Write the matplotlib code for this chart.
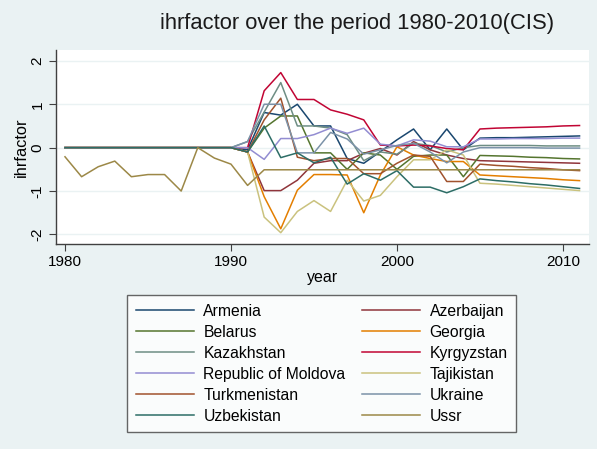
import numpy as np
import matplotlib
matplotlib.use("Agg")
import matplotlib.pyplot as plt

plt.rcParams['font.family'] = ['Liberation Sans', 'DejaVu Sans']

years = list(range(1980, 2012))

armenia = [0, 0, 0, 0, 0, 0, 0, 0, 0, 0, 0,
           -0.05, 0.81, 0.75, 1.0, 0.5, 0.5, -0.25, -0.36, -0.09, 0.18,
           0.43, -0.05, 0.43, -0.05, 0.22, 0.23, 0.23, 0.24, 0.25, 0.26, 0.27]
azerbaijan = [0, 0, 0, 0, 0, 0, 0, 0, 0, 0, 0,
              -0.1, -0.99, -0.99, -0.75, -0.36, -0.3, -0.3, -0.13, -0.02, -0.17,
              0.14, -0.05, -0.17, -0.25, -0.3, -0.31, -0.32, -0.33, -0.34, -0.35, -0.36]
belarus = [0, 0, 0, 0, 0, 0, 0, 0, 0, 0, 0,
           -0.1, 0.45, 0.73, 0.73, -0.12, -0.12, -0.5, -0.12, -0.17, -0.5,
           -0.2, -0.17, -0.17, -0.67, -0.18, -0.19, -0.2, -0.22, -0.23, -0.25, -0.26]
georgia = [0, 0, 0, 0, 0, 0, 0, 0, 0, 0, 0,
           -0.1, -1.13, -1.87, -0.98, -0.62, -0.62, -0.63, -1.5, -0.63, 0.02,
           -0.17, -0.25, -0.32, -0.32, -0.63, -0.65, -0.67, -0.69, -0.71, -0.74, -0.76]
kazakhstan = [0, 0, 0, 0, 0, 0, 0, 0, 0, 0, 0,
              0.14, 0.82, 1.5, 0.5, 0.5, 0.45, 0.3, -0.3, -0.1, -0.15,
              0.1, 0.05, -0.1, 0.0, 0.05, 0.05, 0.05, 0.05, 0.04, 0.04, 0.04]
kyrgyzstan = [0, 0, 0, 0, 0, 0, 0, 0, 0, 0, 0,
              0.0, 1.31, 1.73, 1.11, 1.11, 0.87, 0.77, 0.64, 0.06, 0.04,
              0.06, 0.04, -0.02, -0.05, 0.43, 0.45, 0.46, 0.47, 0.48, 0.5, 0.51]
moldova = [0, 0, 0, 0, 0, 0, 0, 0, 0, 0, 0,
           0.0, -0.27, 0.21, 0.21, 0.3, 0.45, 0.33, 0.45, 0.08, 0.04,
           0.18, 0.15, 0.02, 0.02, 0.2, 0.2, 0.21, 0.21, 0.21, 0.22, 0.22]
tajikistan = [0, 0, 0, 0, 0, 0, 0, 0, 0, 0, 0,
              -0.1, -1.6, -1.96, -1.47, -1.22, -1.47, -0.75, -1.23, -1.1, -0.67,
              -0.28, -0.28, -0.05, -0.17, -0.82, -0.84, -0.87, -0.9, -0.93, -0.96, -0.99]
turkmenistan = [0, 0, 0, 0, 0, 0, 0, 0, 0, 0, 0,
                -0.1, 0.64, 1.14, -0.22, -0.3, -0.25, -0.25, -0.6, -0.6, -0.36,
                -0.17, -0.2, -0.78, -0.78, -0.38, -0.41, -0.43, -0.46, -0.48, -0.51, -0.53]
ukraine = [0, 0, 0, 0, 0, 0, 0, 0, 0, 0, 0,
           0.14, 1.0, 1.0, -0.12, -0.12, 0.35, 0.2, -0.15, -0.05, 0.05,
           0.1, -0.1, -0.35, -0.1, 0.0, 0.0, 0.0, 0.0, -0.01, -0.01, -0.01]
uzbekistan = [0, 0, 0, 0, 0, 0, 0, 0, 0, 0, 0,
              -0.1, 0.5, -0.23, -0.12, -0.35, -0.22, -0.84, -0.6, -0.75, -0.53,
              -0.91, -0.91, -1.04, -0.9, -0.72, -0.76, -0.79, -0.83, -0.86, -0.9, -0.94]
ussr = [-0.21, -0.67, -0.44, -0.31, -0.67, -0.62, -0.62, -1.0, 0.0, -0.24, -0.38,
        -0.87, -0.51, -0.51, -0.51, -0.51, -0.51, -0.51, -0.51, -0.51, -0.51,
        -0.51, -0.51, -0.51, -0.51, -0.51, -0.51, -0.51, -0.51, -0.51, -0.51, -0.51]

names = ['Armenia', 'Azerbaijan', 'Belarus', 'Georgia', 'Kazakhstan', 'Kyrgyzstan',
         'Republic of Moldova', 'Tajikistan', 'Turkmenistan', 'Ukraine', 'Uzbekistan', 'Ussr']
series = [armenia, azerbaijan, belarus, georgia, kazakhstan, kyrgyzstan,
          moldova, tajikistan, turkmenistan, ukraine, uzbekistan, ussr]

# stata s2color palette
colors = ['#1a476f', '#90353b', '#55752f', '#e37e00', '#6e8e84', '#c10534',
          '#938dd2', '#cac27e', '#a0522d', '#7b92a8', '#2d6d66', '#9c8847']

bg = '#eaf2f3'
fig = plt.figure(figsize=(5.97, 4.49), dpi=100, facecolor=bg)
ax = fig.add_axes([0.0933, 0.4566, 0.8933, 0.432])
ax.set_facecolor('white')

lines = []
for s, name, col in zip(series, names, colors):
    ln, = ax.plot(years, s, color=col, lw=1.1, label=name)
    lines.append(ln)

ax.set_xlim(1979.44, 2011.57)
ax.set_ylim(-2.22, 2.25)
ax.set_xticks([1980, 1990, 2000, 2010])
ax.set_yticks([-2, -1, 0, 1, 2])
ax.set_yticklabels(['-2', '-1', '0', '1', '2'], rotation=90, va='center')
ax.grid(axis='y', color=bg, lw=1.0)
ax.set_axisbelow(True)
for sp in ['top', 'right']:
    ax.spines[sp].set_visible(False)
for sp in ['left', 'bottom']:
    ax.spines[sp].set_color('#404040')
    ax.spines[sp].set_linewidth(1.0)
ax.tick_params(axis='both', labelsize=11, length=5, color='#404040', pad=3)
ax.set_xlabel('year', fontsize=11.5, labelpad=1)
ax.set_ylabel('ihrfactor', fontsize=11.8, labelpad=1)

fig.text(0.598, 0.948, 'ihrfactor over the period 1980-2010(CIS)', fontsize=15.8,
         ha='center', va='center', color='#1a1a1a')

# legend is filled row by row in the reference
order = list(range(0, 12, 2)) + list(range(1, 12, 2))
leg = fig.legend([lines[i] for i in order], [names[i] for i in order],
                 loc='upper left', bbox_to_anchor=(0.2133, 0.0408, 0.6515, 0.302),
                 mode='expand', ncol=2, fontsize=11.3, frameon=True, fancybox=False,
                 handlelength=3.7, handletextpad=0.6, labelspacing=0.38,
                 borderpad=0.55, borderaxespad=0)
leg.get_frame().set_edgecolor('#404040')
leg.get_frame().set_linewidth(1.0)
leg.get_frame().set_facecolor('white')

fig.savefig('out.png', dpi=100, facecolor=bg)
